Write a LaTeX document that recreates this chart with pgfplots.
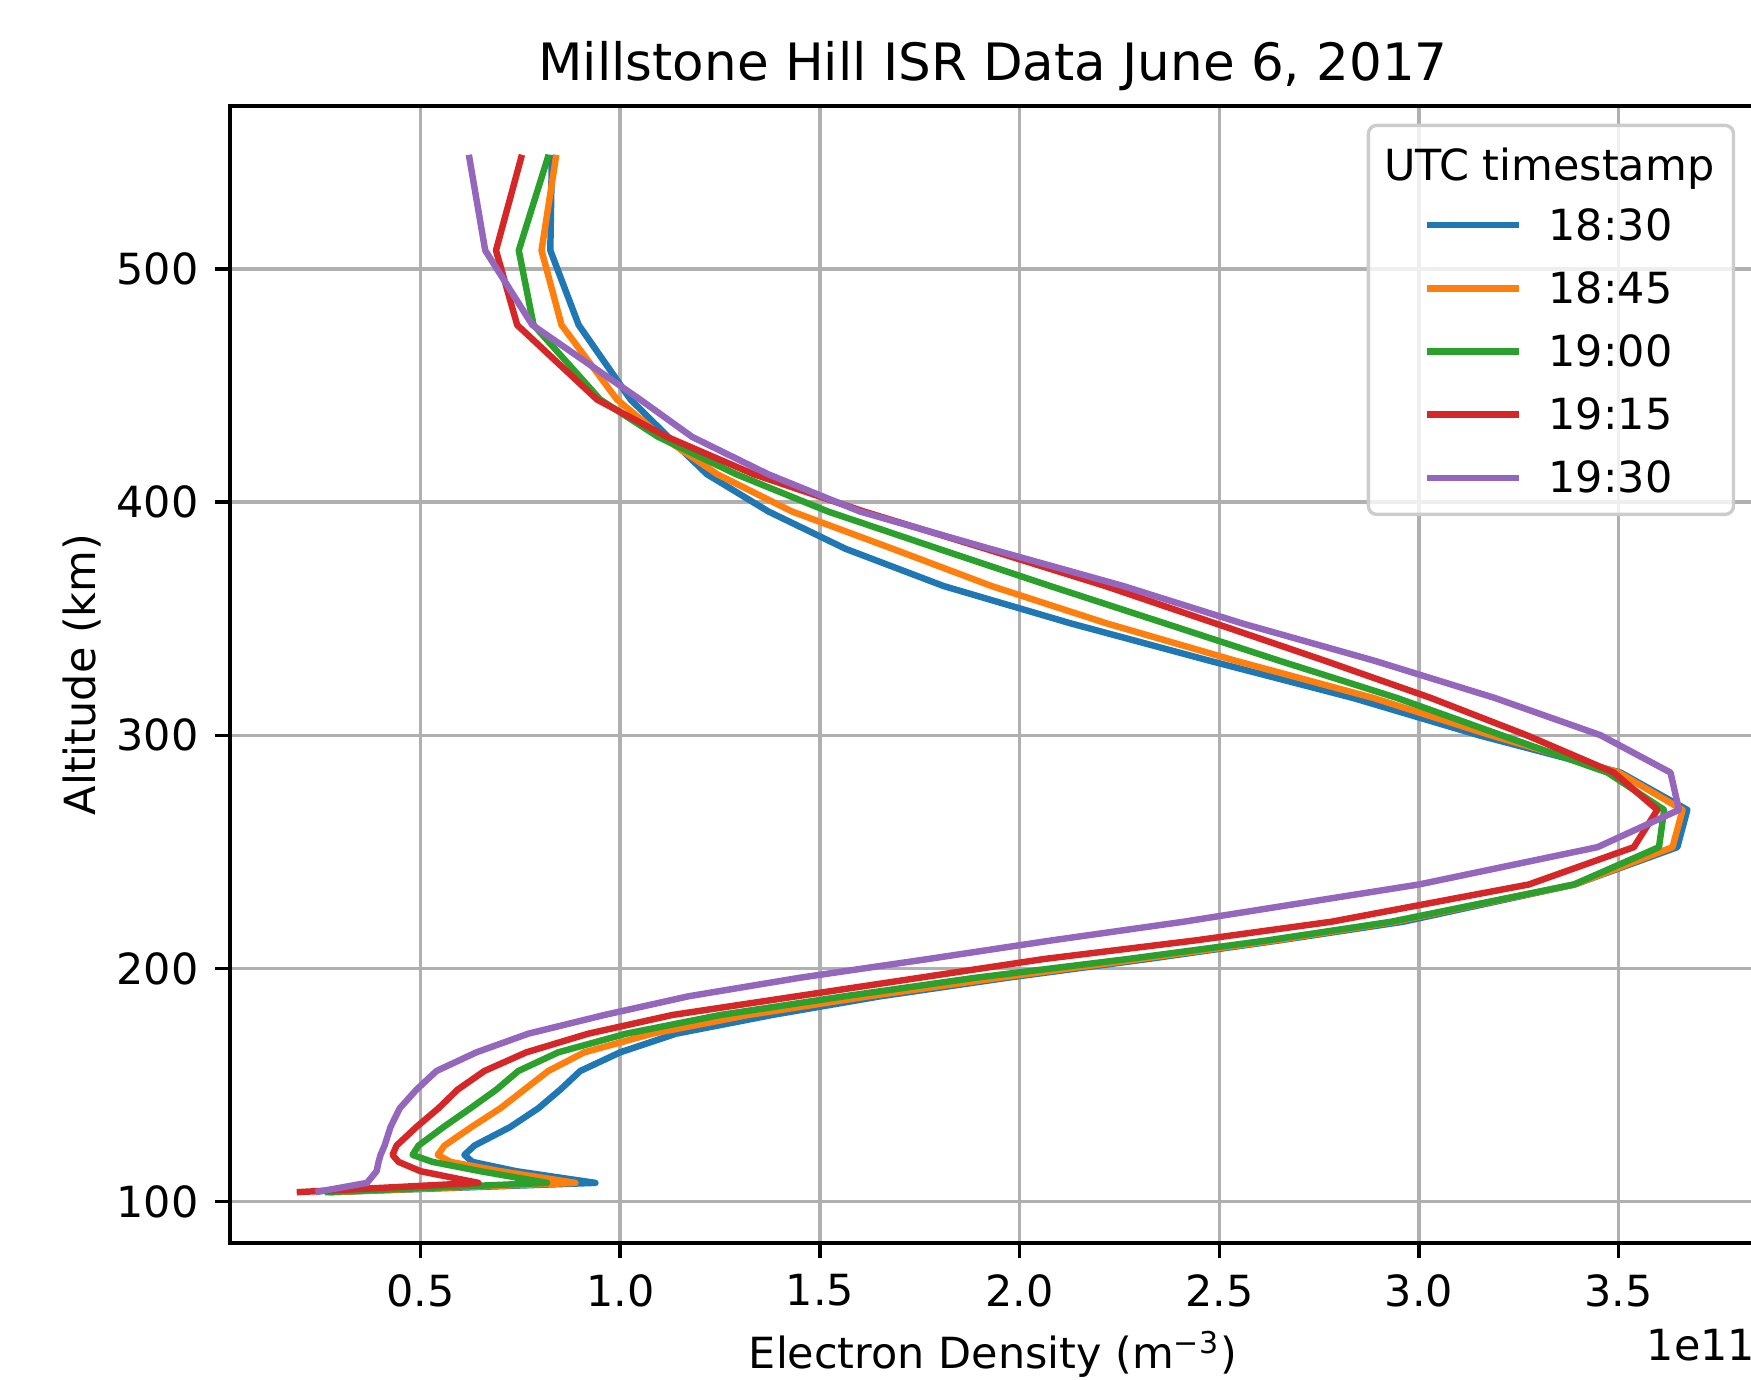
\documentclass[border=0pt]{standalone}
\usepackage{fontspec}
\setmainfont{DejaVu Sans}
\usepackage{pgfplots}
\usepackage{pgfplotstable}
\pgfplotsset{compat=1.18}

\definecolor{c0}{HTML}{1F77B4}
\definecolor{c1}{HTML}{FF7F0E}
\definecolor{c2}{HTML}{2CA02C}
\definecolor{c3}{HTML}{D62728}
\definecolor{c4}{HTML}{9467BD}
\definecolor{gridgray}{HTML}{B0B0B0}
\definecolor{legedge}{HTML}{CCCCCC}

% electron density in units of 1e11 m^-3, altitude in km
\pgfplotstableread{
alt t1830 t1845 t1900 t1915 t1930
104 0.27  0.27  0.26  0.19  0.237
108 0.938 0.888 0.817 0.645 0.366
113 0.74  0.70  0.65  0.50  0.39
117 0.63  0.575 0.53  0.445 0.395
120 0.61  0.543 0.48  0.43  0.40
124 0.635 0.56  0.495 0.44  0.41
132 0.725 0.628 0.558 0.49  0.425
140 0.795 0.70  0.625 0.545 0.448
148 0.85  0.76  0.69  0.593 0.49
156 0.90  0.82  0.745 0.66  0.54
164 1.00  0.91  0.845 0.765 0.64
172 1.14  1.08  1.015 0.92  0.77
180 1.38  1.32  1.25  1.13  0.96
188 1.65  1.62  1.56  1.44  1.17
196 1.97  1.95  1.89  1.75  1.45
204 2.32  2.30  2.27  2.06  1.77
212 2.65  2.64  2.62  2.44  2.08
220 2.96  2.94  2.93  2.78  2.41
236 3.39  3.39  3.388 3.275 3.00
252 3.647 3.635 3.601 3.538 3.447
268 3.672 3.66  3.614 3.597 3.651
284 3.505 3.50  3.472 3.488 3.63
300 3.15  3.18  3.207 3.27  3.455
316 2.835 2.886 2.945 3.03  3.19
332 2.475 2.54  2.65  2.764 2.888
348 2.128 2.218 2.364 2.49  2.557
364 1.81  1.93  2.077 2.215 2.26
380 1.564 1.682 1.797 1.915 1.926
396 1.371 1.43  1.52  1.61  1.60
412 1.217 1.243 1.29  1.334 1.37
428 1.12  1.105 1.095 1.117 1.18
444 1.026 0.992 0.95  0.942 1.05
476 0.896 0.853 0.783 0.742 0.78
508 0.825 0.803 0.746 0.689 0.662
549 0.829 0.840 0.821 0.754 0.621
}\isr

\begin{document}
\begin{tikzpicture}
\begin{axis}[
    name=ax,
    at={(0,0)}, anchor=south west,
    scale only axis,
    width=366.2pt, height=272.9pt,
    xmin=0.023, xmax=3.844,
    ymin=82.2, ymax=570,
    xtick={0.5,1.0,1.5,2.0,2.5,3.0,3.5},
    ytick={100,200,300,400,500},
    scaled x ticks=false,
    /pgf/number format/assume math mode=true,
    xticklabel style={/pgf/number format/fixed, /pgf/number format/fixed zerofill, /pgf/number format/precision=1},
    x tick label style={anchor=north, inner sep=0pt, yshift=-3.8pt},
    y tick label style={anchor=east, inner sep=0pt, xshift=-3.8pt},
    tick label style={font=\fontsize{10.3}{12}\selectfont},
    tick align=outside, tick pos=left,
    major tick length=3.6pt,
    every tick/.style={black, line width=0.82pt},
    axis line style={line width=0.82pt},
    grid=major,
    major grid style={gridgray, line width=0.82pt},
    title={Millstone Hill ISR Data June 6, 2017},
    title style={at={(axis description cs:0.5,1)}, anchor=base, inner sep=0pt, font=\fontsize{12.36}{14}\selectfont},
    xlabel={Electron Density (m\textsuperscript{−3})},
    xlabel style={at={([yshift=-30.2pt]axis description cs:0.5,0)}, anchor=base, inner sep=0pt, font=\fontsize{10.3}{12}\selectfont},
    ylabel={Altitude (km)},
    ylabel style={at={([xshift=-32.2pt]axis description cs:0,0.5)}, anchor=base, inner sep=0pt, font=\fontsize{10.3}{12}\selectfont},
    legend cell align=left,
    legend image code/.code={\path[draw=none] (-9.5pt,0pt) -- (0pt,0pt); \draw[#1, line cap=butt] (0pt,0pt) -- (22pt,0pt);},
    legend style={at={(1,1)}, anchor=north east, xshift=-5pt, yshift=-4.3pt,
        draw=legedge, line width=0.8pt, rounded corners=2pt,
        fill=white, fill opacity=0.8, text opacity=1, draw opacity=1,
        inner xsep=4.6pt, inner ysep=2.8pt, column sep=6.4pt, row sep=3.15pt,
        font=\fontsize{10.3}{12}\selectfont,
        nodes={inner xsep=0pt, inner ysep=1pt, text height=8.6pt, text depth=1.4pt}},
]
\addlegendimage{empty legend}
\addlegendentry{\hspace{-39.5pt}\raisebox{-0.8pt}{UTC timestamp}}
\addplot[c0, line width=1.55pt, line join=round] table[x=t1830, y=alt] {\isr};
\addlegendentry{18:30}
\addplot[c1, line width=1.55pt, line join=round] table[x=t1845, y=alt] {\isr};
\addlegendentry{18:45}
\addplot[c2, line width=1.55pt, line join=round] table[x=t1900, y=alt] {\isr};
\addlegendentry{19:00}
\addplot[c3, line width=1.55pt, line join=round] table[x=t1915, y=alt] {\isr};
\addlegendentry{19:15}
\addplot[c4, line width=1.55pt, line join=round] table[x=t1930, y=alt] {\isr};
\addlegendentry{19:30}
\end{axis}
\node[anchor=base east, inner sep=0pt, font=\fontsize{10.3}{12}\selectfont] at ([yshift=-28.1pt]ax.south east) {1e11};
\pgfresetboundingbox
\useasboundingbox (-55.2pt,-32.7pt) rectangle (365pt,298.3pt);
\end{tikzpicture}
\end{document}
